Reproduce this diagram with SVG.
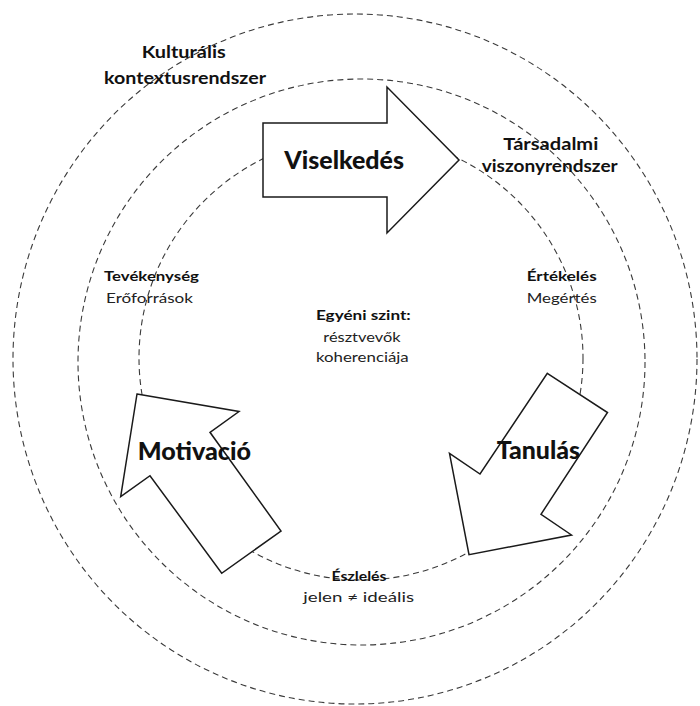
<svg xmlns="http://www.w3.org/2000/svg" width="700" height="706" viewBox="0 0 700 706">
  <style>
    .ring { fill: none; stroke: #3a3a3a; stroke-width: 1.1; stroke-dasharray: 6 4; }
    .arrow { fill: #ffffff; stroke: #1a1a1a; stroke-width: 1.5; stroke-linejoin: miter; }
    text { font-family: Lato, "Liberation Sans", Arial, sans-serif; fill: #111111; }
    .b { font-weight: bold; }
    .sys { font-size: 17px; }
    .sm { font-size: 13.5px; }
    .reg { font-size: 14px; fill: #222222; }
    .big { font-size: 25px; font-weight: 900; }
  </style>

  <!-- concentric levels: cultural, social, individual -->
  <g id="rings">
    <ellipse class="ring" cx="355" cy="359" rx="342" ry="345"/>
    <ellipse class="ring" cx="361.5" cy="362" rx="283.5" ry="283"/>
    <circle class="ring" cx="361" cy="358" r="222"/>
  </g>

  <!-- level titles -->
  <g id="cultural-level">
    <text class="b sys" x="141.7" y="58.3" textLength="84" lengthAdjust="spacingAndGlyphs">Kulturális</text>
    <text class="b sys" x="104" y="84.3" textLength="162" lengthAdjust="spacingAndGlyphs">kontextusrendszer</text>
  </g>
  <g id="social-level">
    <text class="b sys" x="503.3" y="150" textLength="95" lengthAdjust="spacingAndGlyphs">Társadalmi</text>
    <text class="b sys" x="481.7" y="171.7" textLength="136" lengthAdjust="spacingAndGlyphs">viszonyrendszer</text>
  </g>

  <!-- cycle stages -->
  <g id="viselkedes">
    <path class="arrow" d="M263,123 H387 V87 L459,160 L387,233 V197 H263 Z"/>
    <text class="b big" x="284.3" y="169.3" textLength="119.7" lengthAdjust="spacingAndGlyphs">Viselkedés</text>
  </g>
  <g id="tanulas">
    <polygon class="arrow" points="547.3,373.3 607.5,412.5 541,514.3 571.5,535 469,554.7 449.5,453.3 480,474"/>
    <text class="b big" x="496.7" y="459" textLength="83.3" lengthAdjust="spacingAndGlyphs">Tanulás</text>
  </g>
  <g id="motivacio">
    <polygon class="arrow" points="137,394 239,411.5 210,432.3 281,531 221.7,573.3 150,475.7 120.7,496.7"/>
    <text class="b big" x="137.7" y="460" textLength="113.3" lengthAdjust="spacingAndGlyphs">Motivació</text>
  </g>

  <!-- stage annotations -->
  <g id="tevekenyseg">
    <text class="b sm" x="104" y="280.7" textLength="95" lengthAdjust="spacingAndGlyphs">Tevékenység</text>
    <text class="reg" x="106" y="302.7" textLength="87" lengthAdjust="spacingAndGlyphs">Erőforrások</text>
  </g>
  <g id="ertekeles">
    <text class="b sm" x="526.7" y="280.7" textLength="70" lengthAdjust="spacingAndGlyphs">Értékelés</text>
    <text class="reg" x="526.7" y="302.7" textLength="70" lengthAdjust="spacingAndGlyphs">Megértés</text>
  </g>
  <g id="egyeni-szint">
    <text class="b sm" x="316" y="320" textLength="94.7" lengthAdjust="spacingAndGlyphs">Egyéni szint:</text>
    <text class="reg" x="323.3" y="341.7" textLength="77.3" lengthAdjust="spacingAndGlyphs">résztvevők</text>
    <text class="reg" x="316" y="361.7" textLength="92.7" lengthAdjust="spacingAndGlyphs">koherenciája</text>
  </g>
  <g id="eszleles">
    <text class="b sm" x="331.5" y="580.5" textLength="55" lengthAdjust="spacingAndGlyphs">Észlelés</text>
    <text class="reg" x="303.3" y="601.7" textLength="110.7" lengthAdjust="spacingAndGlyphs">jelen ≠ ideális</text>
  </g>
</svg>
